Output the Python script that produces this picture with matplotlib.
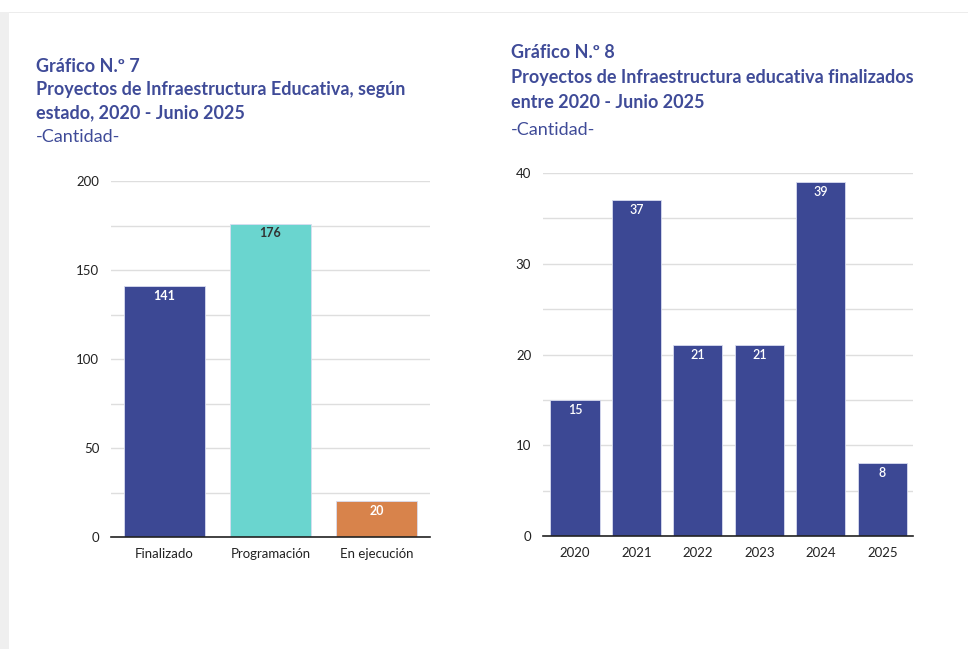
import matplotlib
matplotlib.use("Agg")
import matplotlib.pyplot as plt
from matplotlib.patches import Rectangle
from matplotlib.ticker import MultipleLocator

estados = ["Finalizado", "Programación", "En ejecución"]
cantidad_estado = [141, 176, 20]
colores_estado = ["#3c4894", "#6ad5cf", "#d8834b"]

anios = ["2020", "2021", "2022", "2023", "2024", "2025"]
finalizados = [15, 37, 21, 21, 39, 8]

titulo7 = ["Gráfico N.º 7",
           "Proyectos de Infraestructura Educativa, según",
           "estado, 2020 - Junio 2025"]
titulo8 = ["Gráfico N.º 8",
           "Proyectos de Infraestructura educativa finalizados",
           "entre 2020 - Junio 2025"]

AZUL = "#3f4b98"
plt.rcParams["font.family"] = ["Lato", "DejaVu Sans"]

fig = plt.figure(figsize=(9.68, 6.49), dpi=100)
W, H = 968, 649

# marco de la tarjeta
fig.patches.append(Rectangle((0, 0), 9 / W, 1 - 12 / H, transform=fig.transFigure,
                             facecolor="#efefef", edgecolor="none"))
fig.patches.append(Rectangle((9 / W, 1 - 13 / H), 1, 1.2 / H, transform=fig.transFigure,
                             facecolor="#ececec", edgecolor="none"))


def estilo(ax, mayor, menor, ymax):
    ax.set_ylim(0, ymax)
    ax.yaxis.set_major_locator(MultipleLocator(mayor))
    ax.yaxis.set_minor_locator(MultipleLocator(menor))
    ax.grid(axis="y", which="both", color="#dedede", linewidth=1)
    ax.set_axisbelow(True)
    for s in ["top", "right", "left"]:
        ax.spines[s].set_visible(False)
    ax.spines["bottom"].set_color("#222222")
    ax.spines["bottom"].set_linewidth(1.2)
    ax.tick_params(axis="both", which="both", length=0, labelsize=9.5,
                   labelcolor="#222222")
    ax.tick_params(axis="y", pad=8.5)
    ax.tick_params(axis="x", pad=8)


def titulo(x, ys, lineas):
    for y, t in zip(ys[:3], lineas):
        fig.text(x / W, 1 - y / H, t, fontsize=13.0, fontweight="bold",
                 color=AZUL, va="center", ha="left")
    fig.text(x / W, 1 - ys[3] / H, "-Cantidad-", fontsize=13.0,
             color=AZUL, va="center", ha="left")


# Grafico 7
ax1 = fig.add_axes([111 / W, 1 - 537 / H, 319 / W, 356 / H])
b1 = ax1.bar(estados, cantidad_estado, width=0.76, color=colores_estado,
             edgecolor="#d8dcf0", linewidth=0.6)
ax1.set_xlim(-0.5, 2.5)
estilo(ax1, 50, 25, 200)
for rect, v, c in zip(b1, cantidad_estado, ["white", "#333333", "white"]):
    ax1.annotate(str(v), (rect.get_x() + rect.get_width() / 2, v),
                 xytext=(0, -7), textcoords="offset points", ha="center",
                 va="center", fontsize=9, fontweight="bold", color=c)
titulo(36, [66, 89, 113, 137], titulo7)

# Grafico 8
ax2 = fig.add_axes([543 / W, 1 - 536 / H, 370 / W, 363 / H])
b2 = ax2.bar(anios, finalizados, width=0.8, color="#3c4894",
             edgecolor="#d8dcf0", linewidth=0.6)
ax2.set_xlim(-0.52, 5.5)
estilo(ax2, 10, 5, 40)
for rect, v in zip(b2, finalizados):
    ax2.annotate(str(v), (rect.get_x() + rect.get_width() / 2, v),
                 xytext=(0, -7), textcoords="offset points", ha="center",
                 va="center", fontsize=9, fontweight="semibold", color="white")
titulo(511, [53, 78, 103, 130], titulo8)

fig.savefig("out.png", dpi=100, facecolor="white")
